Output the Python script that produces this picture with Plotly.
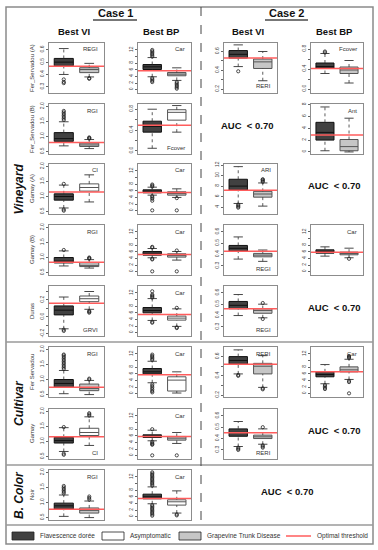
import plotly.graph_objects as go

W, H = 378, 550
FONT = "Liberation Sans, Arial, sans-serif"

# ---------------- data ----------------
row_names = ["Fer_Servadou (A)", "Fer_Servadou (B)", "Gamay (A)", "Gamay (B)",
             "Duras", "Fer Servadou", "Gamay", "Noir"]
group_names = ["Vineyard", "Cultivar", "B. Color"]
group_rows = [(0, 4), (5, 6), (7, 7)]
case_titles = ["Case 1", "Case 2"]
col_titles = ["Best VI", "Best BP", "Best VI", "Best BP"]
auc_text = "AUC  < 0.70"
auc_cells = [(1, 2, 2), (2, 3, 3), (4, 3, 3), (6, 3, 3), (7, 2, 3)]
legend_labels = ["Flavescence dorée", "Asymptomatic", "Grapevine Trunk Disease", "Optimal threshold"]

panel_row = [0, 0, 0, 0, 1, 1, 1, 2, 2, 2, 3, 3, 3, 3, 4, 4, 4, 5, 5, 5, 5, 6, 6, 6, 7, 7]
panel_col = [0, 1, 2, 3, 0, 1, 3, 0, 1, 2, 0, 1, 2, 3, 0, 1, 2, 0, 1, 2, 3, 0, 1, 2, 0, 1]
index_name = ["REGI", "Car", "RERI", "Fcover", "RGI", "Fcover", "Ant", "CI", "Car", "ARI",
              "RGI", "Car", "REGI", "Car", "GRVI", "Car", "REGI", "RGI", "Car", "RERI",
              "Car", "CI", "Car", "RERI", "RGI", "Car"]
index_top = [1, 1, 0, 1, 1, 0, 1, 1, 1, 1, 1, 1, 0, 1, 0, 1, 0, 1, 1, 1, 1, 0, 1, 0, 1, 1]
axis_kind = ["r36", "car", "r26", "fc", "r0520", "fc", "ant", "r0520", "car", "ari",
             "r0520", "car", "r36", "car", "dur", "car", "r36", "r0520", "car", "r26",
             "car", "r0520", "car", "r36", "r0520", "car"]
y_low = [0.25, -1.0, 0.16, -0.08, 0.42, -0.06, -0.35, 0.42, -1.0, 2.7,
         0.42, -1.0, 0.22, -1.0, -0.225, -1.0, 0.22, 0.42, -1.0, 0.18,
         -1.0, 0.42, -1.0, 0.22, 0.42, -1.0]
y_high = [0.655, 14.1, 0.69, 0.92, 2.08, 0.9, 8.1, 2.08, 14.1, 12.2,
          2.08, 14.1, 0.66, 14.1, 0.365, 14.1, 0.66, 2.08, 14.1, 0.70,
          14.1, 2.08, 14.1, 0.66, 2.08, 14.1]

tick_vals = {
    "r36": [0.3, 0.4, 0.5, 0.6],
    "car": [0, 2, 4, 6, 8, 10, 12],
    "r26": [0.2, 0.3, 0.4, 0.5, 0.6],
    "fc": [0.0, 0.2, 0.4, 0.6, 0.8],
    "r0520": [0.5, 1.0, 1.5, 2.0],
    "ant": [0, 2, 4, 6, 8],
    "ari": [4, 6, 8, 10, 12],
    "dur": [-0.2, -0.1, 0.0, 0.1, 0.2, 0.3],
}
tick_text = {
    "r36": ["0.3", "0.4", "0.5", "0.6"],
    "car": ["0", "2", "4", "6", "8", "", "12"],
    "r26": ["0.2", "", "0.4", "", "0.6"],
    "fc": ["0.0", "", "0.4", "", "0.8"],
    "r0520": ["0.5", "1.0", "1.5", "2.0"],
    "ant": ["0", "2", "4", "6", "8"],
    "ari": ["4", "6", "8", "10", "12"],
    "dur": ["-0.2", "", "0.0", "", "0.2", ""],
}

threshold = [0.466, 5.7, 0.53, 0.41, 0.8, 0.49, 2.85, 1.15, 5.5, 7.2, 0.84, 5.2, 0.43, 5.9,
             0.16, 5.5, 0.46, 0.74, 5.7, 0.52, 6.6, 1.16, 5.8, 0.45, 0.78, 5.5]

# Flavescence dorée boxes
fd_q1 = [0.47, 6.1, 0.53, 0.42, 0.84, 0.36, 2.0, 0.88, 5.4, 7.25, 0.82, 5.0, 0.43, 5.6,
         0.024, 6.0, 0.46, 0.74, 6.0, 0.52, 5.1, 0.95, 5.5, 0.42, 0.78, 5.4]
fd_med = [0.50, 6.9, 0.57, 0.45, 0.93, 0.47, 3.3, 1.0, 5.9, 8.0, 0.88, 5.55, 0.455, 6.1,
          0.08, 6.7, 0.49, 0.87, 6.6, 0.56, 5.8, 1.03, 6.0, 0.454, 0.89, 6.0]
fd_q3 = [0.53, 7.6, 0.61, 0.52, 1.13, 0.57, 5.0, 1.09, 6.3, 9.3, 1.0, 6.1, 0.48, 6.6,
         0.13, 7.6, 0.524, 1.0, 7.6, 0.60, 6.6, 1.14, 6.3, 0.485, 0.98, 6.8]
fd_lo = [0.40, 3.9, 0.44, 0.31, 0.69, 0.05, 0.2, 0.62, 4.7, 4.7, 0.72, 4.2, 0.36, 4.7,
         -0.14, 3.7, 0.40, 0.53, 3.3, 0.42, 3.0, 0.67, 4.5, 0.33, 0.54, 3.9]
fd_hi = [0.61, 9.7, 0.67, 0.71, 1.49, 0.80, 7.6, 1.38, 7.1, 11.7, 1.22, 7.0, 0.555, 7.5,
         0.235, 10.3, 0.585, 1.3, 9.8, 0.67, 8.8, 1.46, 7.7, 0.55, 1.25, 9.0]
fd_out = [
    [0.36, 0.34, 0.33],
    [10.0, 10.4, 10.8, 11.2, 11.6, 12.0, 3.5, 3.1, 2.7, 2.3],
    [0.39],
    [0.73, 0.75],
    [1.55, 1.6, 1.65, 1.7, 1.75, 1.8, 1.85],
    [],
    [],
    [1.42, 0.57, 0.53],
    [7.3, 7.6, 7.9, 4.4, 4.0, 3.6, 3.0, 0.1],
    [4.5, 4.3, 4.1, 3.9],
    [1.25],
    [7.3, 7.5, 3.9, 3.7, 0.1],
    [],
    [],
    [-0.15, -0.165],
    [10.6, 10.9, 11.2, 11.5, 12.5, 3.3, 3.0],
    [],
    [1.35, 1.4, 1.45, 1.5, 1.55, 1.6, 1.65, 1.7, 1.75, 1.8, 1.83],
    [10.2, 10.6, 11.0, 11.4, 11.8, 2.8, 2.3, 1.8, 1.3, 0.8, 0.4],
    [0.41, 0.40],
    [2.6, 2.2, 1.8, 1.4],
    [1.48, 0.6, 0.56],
    [8.0, 4.2, 3.8, 3.5, 3.3, 0.1],
    [0.32, 0.31, 0.30],
    [1.3, 1.35, 1.4, 1.45, 1.5, 1.55],
    [9.4, 9.8, 10.2, 10.6, 11.0, 11.4, 11.8, 12.2, 12.6, 13.0, 13.4,
     3.5, 3.1, 2.7, 2.3, 1.9, 1.5, 1.1, 0.7, 0.3],
]

# comparison boxes (Asymptomatic or Grapevine Trunk Disease)
cmp_group = ["gtd", "gtd", "gtd", "gtd", "gtd", "asym", "gtd", "asym", "gtd", "gtd",
             "gtd", "gtd", "gtd", "gtd", "asym", "asym", "gtd", "gtd", "asym", "gtd",
             "gtd", "asym", "gtd", "gtd", "gtd", "asym"]
cmp_q1 = [0.415, 4.2, 0.42, 0.31, 0.67, 0.59, 0.2, 1.18, 4.7, 5.9, 0.70, 4.4, 0.38, 5.1,
          0.18, 3.8, 0.42, 0.63, 0.8, 0.42, 6.6, 1.2, 4.7, 0.40, 0.65, 3.5]
cmp_med = [0.44, 4.7, 0.49, 0.38, 0.72, 0.74, 0.9, 1.3, 5.2, 6.5, 0.74, 4.9, 0.395, 5.5,
           0.215, 4.4, 0.445, 0.7, 4.1, 0.5, 7.2, 1.3, 5.3, 0.415, 0.74, 4.5]
cmp_q3 = [0.455, 5.2, 0.52, 0.44, 0.78, 0.79, 2.1, 1.42, 5.7, 7.0, 0.83, 5.4, 0.41, 5.9,
          0.247, 5.0, 0.46, 0.85, 5.1, 0.53, 8.1, 1.44, 5.8, 0.43, 0.82, 5.1]
cmp_lo = [0.38, 2.8, 0.29, 0.12, 0.6, 0.36, 0.0, 0.82, 4.0, 4.2, 0.65, 3.5, 0.34, 4.2,
          0.09, 1.9, 0.38, 0.5, 0.2, 0.28, 4.3, 0.87, 3.7, 0.35, 0.5, 1.1]
cmp_hi = [0.49, 6.6, 0.60, 0.57, 0.9, 0.87, 5.7, 1.72, 6.6, 8.6, 0.93, 6.1, 0.44, 7.1,
          0.30, 7.2, 0.50, 0.97, 6.6, 0.61, 10.4, 1.82, 7.0, 0.485, 1.05, 7.8]
cmp_out = [
    [0.37, 0.365],
    [2.3, 1.9, 1.5, 1.1, 0.7, 0.3],
    [], [], [0.93, 0.95, 0.97], [], [], [],
    [3.8, 0.1],
    [8.8, 9.0, 9.2, 9.3],
    [0.96, 0.98, 1.0],
    [6.4, 0.1],
    [],
    [3.9],
    [0.07, 0.06, 0.05],
    [7.5, 1.6, 1.4],
    [0.51, 0.37],
    [1.0, 1.03],
    [],
    [0.27, 0.26],
    [10.8, 11.1, 11.4, 3.9, 3.5, 0.1],
    [1.86, 1.9, 1.94],
    [0.1],
    [0.5, 0.34, 0.33, 0.32],
    [1.1, 1.15, 1.2],
    [0.7, 0.4],
]

# ---------------- styles / geometry ----------------
col_px = [(49, 104), (138, 191), (224, 277), (311, 363)]
row_top = [43, 104, 164, 225, 286, 347, 409, 470]
PANEL_H = 50
BOX_W = 0.75
CAP = 0.19
FILL = {"fd": "#414141", "asym": "#ffffff", "gtd": "#c6c6c6"}
EDGE = {"fd": "#111111", "asym": "#555555", "gtd": "#555555"}
RED = "#ff5c5c"
FRAME = "#8c8c8c"


def px(x):
    return x / W


def py(y):
    return 1 - y / H


fig = go.Figure()
layout = {}
shapes = []
annotations = []


def add_box(n, pos, q1, med, q3, lo, hi, out, grp):
    xa = "x" if n == 1 else f"x{n}"
    ya = "y" if n == 1 else f"y{n}"
    fig.add_trace(go.Scatter(x=[pos, pos, None, pos, pos], y=[lo, q1, None, q3, hi],
                             mode="lines", line=dict(color="#333333", width=0.8, dash="dot"),
                             xaxis=xa, yaxis=ya, showlegend=False, hoverinfo="skip"))
    fig.add_trace(go.Scatter(x=[pos - CAP, pos + CAP, None, pos - CAP, pos + CAP],
                             y=[lo, lo, None, hi, hi], mode="lines",
                             line=dict(color="#333333", width=0.9),
                             xaxis=xa, yaxis=ya, showlegend=False, hoverinfo="skip"))
    fig.add_trace(go.Box(x=[pos], q1=[q1], median=[med], q3=[q3], lowerfence=[q1], upperfence=[q3],
                         width=BOX_W, fillcolor=FILL[grp], line=dict(color=EDGE[grp], width=1),
                         whiskerwidth=0, boxpoints=False, xaxis=xa, yaxis=ya, showlegend=False))
    if out:
        fig.add_trace(go.Scatter(x=[pos] * len(out), y=out, mode="markers",
                                 marker=dict(symbol="circle-open", size=3.2,
                                             color="#222222", line=dict(width=0.8)),
                                 xaxis=xa, yaxis=ya, showlegend=False, hoverinfo="skip"))


for i in range(len(panel_row)):
    n = i + 1
    xa = "x" if n == 1 else f"x{n}"
    ya = "y" if n == 1 else f"y{n}"
    xk = "xaxis" if n == 1 else f"xaxis{n}"
    yk = "yaxis" if n == 1 else f"yaxis{n}"
    x0, x1 = col_px[panel_col[i]]
    yt = row_top[panel_row[i]]
    layout[xk] = dict(domain=[px(x0), px(x1)], range=[0.42, 2.58], anchor=ya,
                      showgrid=False, zeroline=False, showticklabels=False, ticks="",
                      showline=True, mirror=True, linecolor=FRAME, linewidth=1,
                      fixedrange=True, automargin=False)
    k = axis_kind[i]
    layout[yk] = dict(domain=[py(yt + PANEL_H), py(yt)], range=[y_low[i], y_high[i]],
                      anchor=xa, tickmode="array", tickvals=tick_vals[k], ticktext=tick_text[k],
                      tickangle=-90, ticks="outside", ticklen=2, tickwidth=0.8, tickcolor="#666666",
                      tickfont=dict(size=5, color="#444444", family=FONT),
                      showgrid=False, zeroline=False, showline=True, mirror=True,
                      linecolor=FRAME, linewidth=1, fixedrange=True, automargin=False)

    add_box(n, 1, fd_q1[i], fd_med[i], fd_q3[i], fd_lo[i], fd_hi[i], fd_out[i], "fd")
    add_box(n, 2, cmp_q1[i], cmp_med[i], cmp_q3[i], cmp_lo[i], cmp_hi[i], cmp_out[i], cmp_group[i])

    shapes.append(dict(type="line", xref=f"{xa} domain", yref=ya, x0=0, x1=1,
                       y0=threshold[i], y1=threshold[i], line=dict(color=RED, width=1.5)))
    top = index_top[i] == 1
    annotations.append(dict(text=index_name[i], xref=f"{xa} domain", yref=f"{ya} domain",
                            x=0.93, y=0.97 if top else 0.03, xanchor="right",
                            yanchor="top" if top else "bottom", showarrow=False,
                            font=dict(size=6, color="#333333", family=FONT)))

# row labels
for r, name in enumerate(row_names):
    annotations.append(dict(text=name, xref="paper", yref="paper", x=px(32),
                            y=py(row_top[r] + PANEL_H / 2), textangle=-90, showarrow=False,
                            xanchor="center", yanchor="middle",
                            font=dict(size=6, color="#333333", family=FONT)))

# group labels
for g, (r0, r1) in zip(group_names, group_rows):
    yc = (row_top[r0] + row_top[r1] + PANEL_H) / 2
    annotations.append(dict(text=f"<b><i>{g}</i></b>", xref="paper", yref="paper", x=px(19),
                            y=py(yc), textangle=-90, showarrow=False, xanchor="center",
                            yanchor="middle", font=dict(size=12, color="#111111", family=FONT)))

# case titles + underlines
for c, (title, xc, ul) in enumerate(zip(case_titles, [115, 286], [(93, 137), (265, 308)])):
    annotations.append(dict(text=f"<b>{title}</b>", xref="paper", yref="paper", x=px(xc),
                            y=py(13), showarrow=False, xanchor="center", yanchor="middle",
                            font=dict(size=11, color="#111111", family=FONT)))
    shapes.append(dict(type="line", xref="paper", yref="paper", x0=px(ul[0]), x1=px(ul[1]),
                       y0=py(20), y1=py(20), line=dict(color="#777777", width=2)))

# column titles
for c, t in enumerate(col_titles):
    xc = (col_px[c][0] + col_px[c][1]) / 2 - 3
    annotations.append(dict(text=f"<b>{t}</b>", xref="paper", yref="paper", x=px(xc),
                            y=py(31), showarrow=False, xanchor="center", yanchor="middle",
                            font=dict(size=9.5, color="#111111", family=FONT)))

# AUC notes
for r, c0, c1 in auc_cells:
    if c0 == c1:
        xc = (col_px[c0][0] + col_px[c0][1]) / 2 - 3
    else:
        xc = 287
    yc = row_top[r] + PANEL_H / 2 - 4
    annotations.append(dict(text=f"<b>{auc_text}</b>", xref="paper", yref="paper", x=px(xc),
                            y=py(yc), showarrow=False, xanchor="center", yanchor="middle",
                            font=dict(size=9.5, color="#111111", family=FONT)))

# frame and separators
shapes.append(dict(type="rect", xref="paper", yref="paper", x0=px(6), x1=px(373),
                   y0=py(544), y1=py(7), line=dict(color="#8a8a8a", width=1.5)))
for ysep in [342, 465, 525]:
    shapes.append(dict(type="line", xref="paper", yref="paper", x0=px(6), x1=px(373),
                       y0=py(ysep), y1=py(ysep), line=dict(color="#9a9a9a", width=1.5)))
shapes.append(dict(type="line", xref="paper", yref="paper", x0=px(201), x1=px(201),
                   y0=py(7), y1=py(525), line=dict(color="#444444", width=1, dash="dash")))

# legend
leg_boxes = [(12, 34, "fd"), (102, 124, "asym"), (179, 201, "gtd")]
for (lx0, lx1, grp), lab in zip(leg_boxes, legend_labels[:3]):
    shapes.append(dict(type="rect", xref="paper", yref="paper", x0=px(lx0), x1=px(lx1),
                       y0=py(540), y1=py(532), fillcolor=FILL[grp],
                       line=dict(color="#222222", width=0.8)))
    annotations.append(dict(text=lab, xref="paper", yref="paper", x=px(lx1 + 4), y=py(535.5),
                            showarrow=False, xanchor="left", yanchor="middle",
                            font=dict(size=6.5, color="#333333", family=FONT)))
shapes.append(dict(type="line", xref="paper", yref="paper", x0=px(286), x1=px(311),
                   y0=py(536), y1=py(536), line=dict(color=RED, width=1.5)))
annotations.append(dict(text=legend_labels[3], xref="paper", yref="paper", x=px(315), y=py(535.5),
                        showarrow=False, xanchor="left", yanchor="middle",
                        font=dict(size=6.5, color="#333333", family=FONT)))

fig.update_layout(width=W, height=H, margin=dict(l=0, r=0, t=0, b=0), autosize=False,
                  paper_bgcolor="white", plot_bgcolor="white", showlegend=False,
                  boxmode="overlay", shapes=shapes, annotations=annotations, **layout)

fig.write_html("out.html", config={"displayModeBar": False},
               post_script="document.body.style.margin='0';document.body.style.overflow='hidden';")
